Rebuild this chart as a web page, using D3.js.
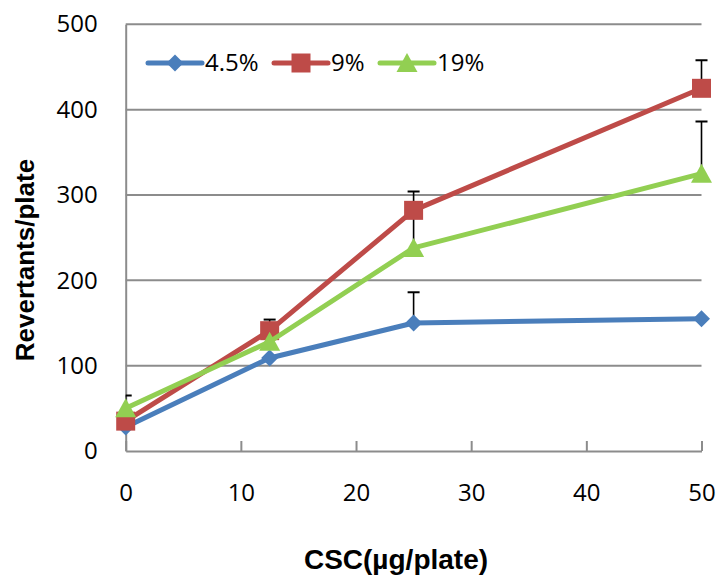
<!DOCTYPE html>
<html>
<head>
<meta charset="utf-8">
<script src="https://cdn.jsdelivr.net/npm/d3@7"></script>
<style>
  html, body { margin: 0; padding: 0; background: #fff; }
  svg { display: block; }
</style>
</head>
<body>
<svg id="chart" width="717" height="575"></svg>
<script>
// Dose levels (CSC, µg/plate)
const doses = [0, 12.5, 25, 50];

// Mean revertants per plate for each series
const series45 = [28, 109, 150, 155];
const series9  = [35, 141, 282, 425];
const series19 = [50, 128, 238, 325];

// Upper error (SD) for each point; 0 = no bar drawn
const err45 = [0, 0, 36, 0];
const err9  = [0, 13, 22, 33];
const err19 = [15, 0, 40, 61];

const seriesNames = ["4.5%", "9%", "19%"];
const seriesColors = ["#4a7ebb", "#be4b48", "#92cf52"];
const seriesMarkers = ["diamond", "square", "triangle"];

const xTicks = [0, 10, 20, 30, 40, 50];
const yTicks = [0, 100, 200, 300, 400, 500];

const xTitle = "CSC(µg/plate)";
const yTitle = "Revertants/plate";

const seriesData = [
  { name: seriesNames[0], values: series45, errors: err45, color: seriesColors[0], marker: seriesMarkers[0] },
  { name: seriesNames[1], values: series9,  errors: err9,  color: seriesColors[1], marker: seriesMarkers[1] },
  { name: seriesNames[2], values: series19, errors: err19, color: seriesColors[2], marker: seriesMarkers[2] }
];

const svg = d3.select("#chart");
const plot = { left: 125.7, right: 701.5, top: 24.3, bottom: 451 };

const x = d3.scaleLinear().domain([0, 50]).range([plot.left, plot.right]);
const y = d3.scaleLinear().domain([0, 500]).range([plot.bottom, plot.top]);

const tickFont = "'Open Sans', 'Noto Sans', sans-serif";
const gridColor = "#8c8c8c";

// Horizontal gridlines
svg.append("g")
  .selectAll("line")
  .data(yTicks.filter(d => d > 0))
  .join("line")
  .attr("x1", plot.left).attr("x2", plot.right)
  .attr("y1", d => y(d)).attr("y2", d => y(d))
  .attr("stroke", gridColor).attr("stroke-width", 2);

// Y axis
const yAxis = d3.axisLeft(y).tickValues(yTicks).tickSize(0).tickPadding(28);
const gy = svg.append("g").attr("transform", `translate(${plot.left},0)`).call(yAxis);
gy.select(".domain").attr("stroke", gridColor).attr("stroke-width", 2);
gy.selectAll("text").attr("font-family", tickFont).attr("font-size", 24).attr("fill", "#000");

// X axis with inward ticks
const xAxis = d3.axisBottom(x).tickValues(xTicks).tickSizeInner(-10).tickSizeOuter(0).tickPadding(33);
const gx = svg.append("g").attr("transform", `translate(0,${plot.bottom})`).call(xAxis);
gx.select(".domain").attr("stroke", gridColor).attr("stroke-width", 2);
gx.selectAll(".tick line").attr("stroke", gridColor).attr("stroke-width", 2);
gx.selectAll("text").attr("font-family", tickFont).attr("font-size", 24).attr("fill", "#000");

// Axis titles
svg.append("text")
  .attr("x", 396).attr("y", 569)
  .attr("text-anchor", "middle")
  .attr("font-family", "'Liberation Sans', Arial, sans-serif")
  .attr("font-weight", "bold").attr("font-size", 28)
  .text(xTitle);

svg.append("text")
  .attr("transform", "translate(34,260) rotate(-90)")
  .attr("text-anchor", "middle")
  .attr("font-family", "'Liberation Sans', Arial, sans-serif")
  .attr("font-weight", "bold").attr("font-size", 26)
  .text(yTitle);

// Clip error bars to the plot area
svg.append("clipPath").attr("id", "plotClip")
  .append("rect")
  .attr("x", plot.left).attr("y", plot.top - 20)
  .attr("width", plot.right - plot.left + 20)
  .attr("height", plot.bottom - plot.top + 20);

// Error bars (upper only)
const errG = svg.append("g").attr("clip-path", "url(#plotClip)");
seriesData.forEach(s => {
  s.values.forEach((v, i) => {
    const e = s.errors[i];
    if (!e) return;
    const cx = x(doses[i]);
    errG.append("line")
      .attr("x1", cx).attr("x2", cx)
      .attr("y1", y(v)).attr("y2", y(v + e))
      .attr("stroke", "#000").attr("stroke-width", 1.6);
    errG.append("line")
      .attr("x1", cx - 6).attr("x2", cx + 6)
      .attr("y1", y(v + e)).attr("y2", y(v + e))
      .attr("stroke", "#000").attr("stroke-width", 2);
  });
});

// Marker shapes
function markerPath(type) {
  if (type === "diamond") return "M0,-8.5L8.5,0L0,8.5L-8.5,0Z";
  if (type === "square") return "M-9.5,-9.5H9.5V9.5H-9.5Z";
  return "M0,-10L10.5,9H-10.5Z";
}

const line = d3.line().x((d, i) => x(doses[i])).y(d => y(d));

seriesData.forEach(s => {
  const g = svg.append("g");
  g.append("path")
    .attr("d", line(s.values))
    .attr("fill", "none")
    .attr("stroke", s.color)
    .attr("stroke-width", 5)
    .attr("stroke-linejoin", "round")
    .attr("stroke-linecap", "round");
  g.selectAll("path.mk")
    .data(s.values)
    .join("path")
    .attr("class", "mk")
    .attr("transform", (d, i) => `translate(${x(doses[i])},${y(d)})`)
    .attr("d", markerPath(s.marker))
    .attr("fill", s.color);
});

// Legend
const legendItems = [
  { lx: 148, tx: 205 },
  { lx: 274, tx: 331 },
  { lx: 380, tx: 437 }
];
const legendY = 63;
seriesData.forEach((s, i) => {
  const it = legendItems[i];
  const g = svg.append("g");
  g.append("line")
    .attr("x1", it.lx).attr("x2", it.lx + 54)
    .attr("y1", legendY).attr("y2", legendY)
    .attr("stroke", s.color).attr("stroke-width", 5)
    .attr("stroke-linecap", "round");
  g.append("path")
    .attr("transform", `translate(${it.lx + 27},${legendY})`)
    .attr("d", markerPath(s.marker))
    .attr("fill", s.color);
  g.append("text")
    .attr("x", it.tx).attr("y", legendY)
    .attr("dy", "0.35em")
    .attr("font-family", tickFont).attr("font-size", 24)
    .attr("fill", "#000")
    .text(s.name);
});
</script>
</body>
</html>
